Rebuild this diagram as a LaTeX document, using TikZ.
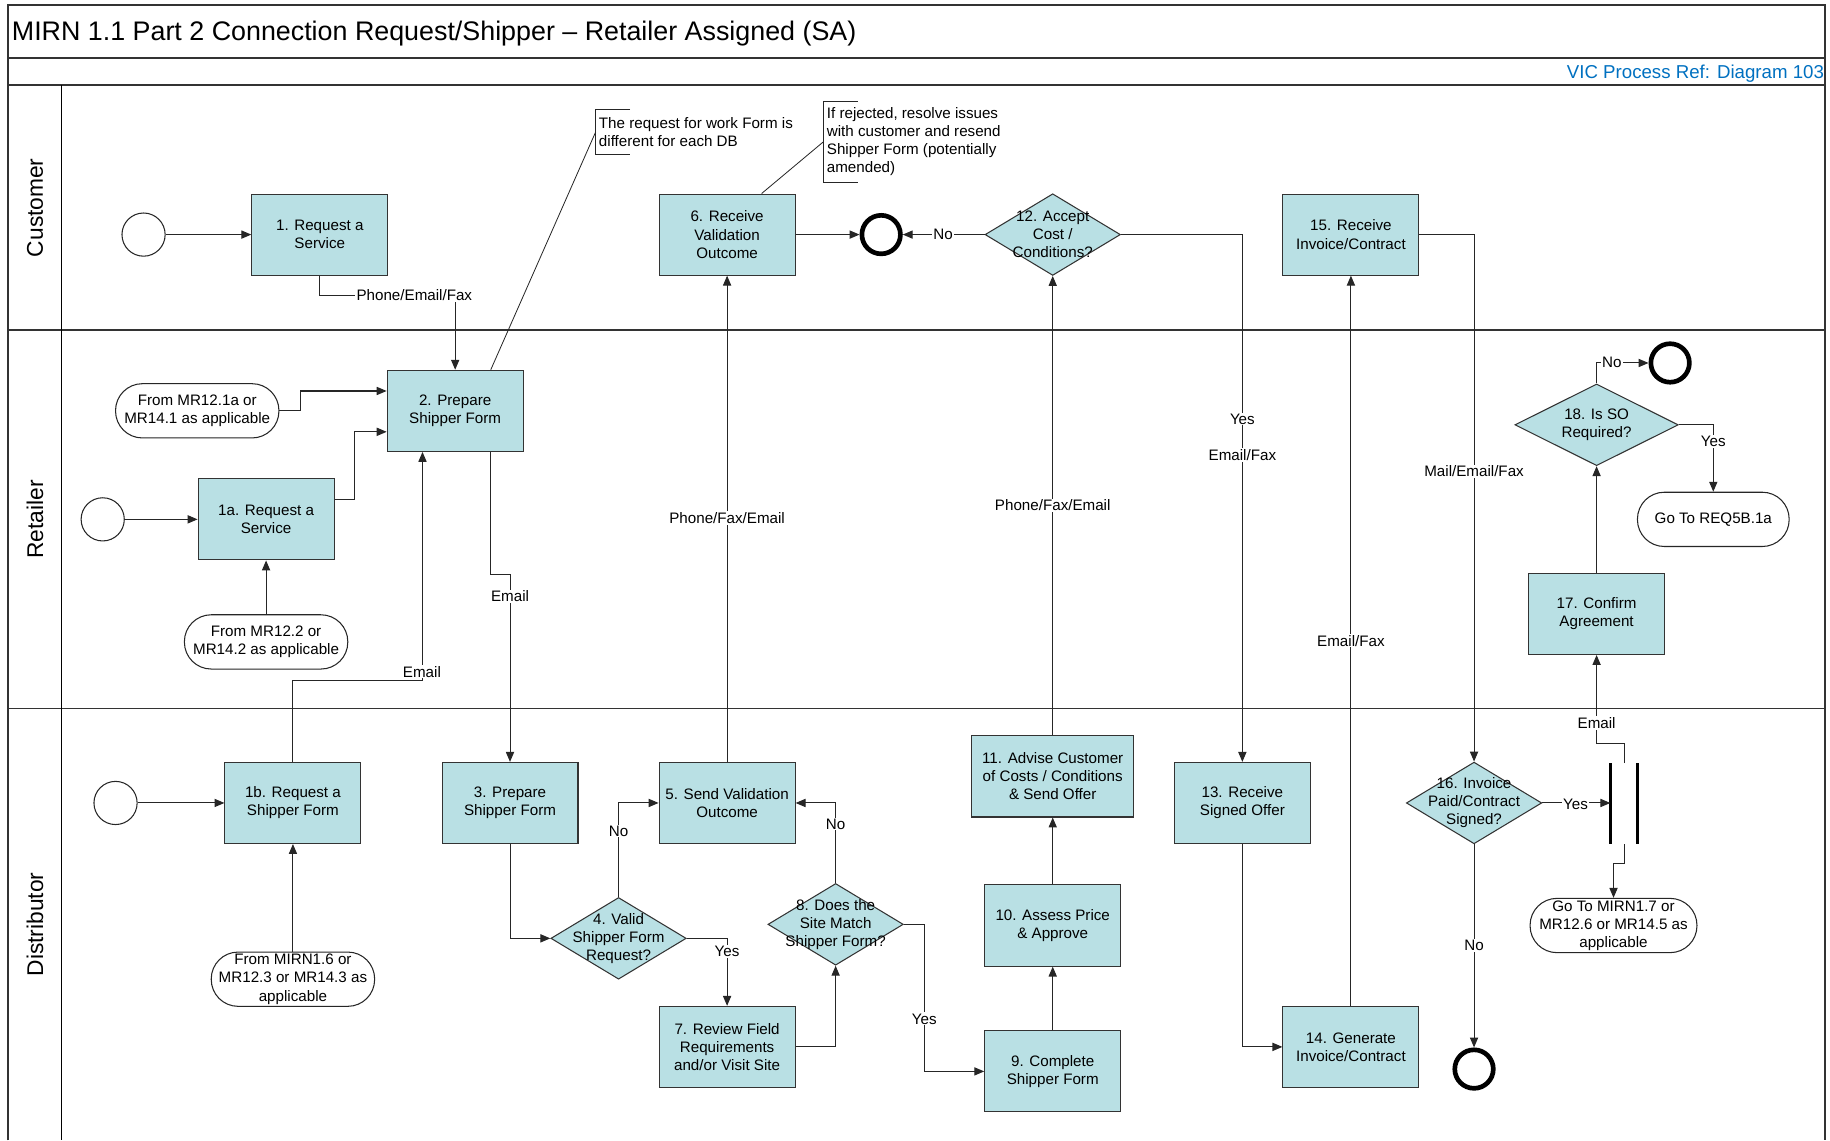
\documentclass[tikz,border=0pt]{standalone}
\usepackage{fontspec}
\setmainfont{Liberation Sans}
\usetikzlibrary{arrows.meta,shapes.geometric,calc}
\definecolor{boxfill}{RGB}{185,224,228}
\definecolor{refblue}{RGB}{0,112,192}
\newcommand{\flowfont}{\fontsize{13}{15.5}\selectfont}
\begin{document}
\begin{tikzpicture}[x=1pt,y=-1pt,
  lane/.style={draw=black!80, line width=1.6pt},
  box/.style={draw=black!80, line width=0.9pt, fill=boxfill, minimum width=116.5pt,
    minimum height=69.5pt, inner sep=0pt, align=center, font=\flowfont},
  dec/.style={diamond, draw=black!80, line width=0.9pt, fill=boxfill, minimum width=116pt,
    minimum height=70pt, inner sep=0pt},
  dtxt/.style={align=center, font=\flowfont, inner sep=0pt},
  term/.style={rectangle, rounded corners=23pt, draw=black!85, line width=0.9pt, fill=white,
    minimum width=140pt, minimum height=46.5pt, inner sep=0pt, align=center, font=\flowfont},
  startev/.style={circle, draw=black!85, line width=0.9pt, minimum size=37pt, inner sep=0pt},
  endev/.style={circle, draw=black, line width=4pt, minimum size=33pt, inner sep=0pt},
  flow/.style={draw=black!85, line width=0.9pt, -{Triangle[length=8.5pt,width=7pt]}},
  plain/.style={draw=black!85, line width=0.9pt},
  lbl/.style={fill=white, inner sep=1pt, font=\flowfont},
  note/.style={align=left, font=\flowfont, inner sep=0pt, anchor=west},
  lanename/.style={rotate=90, font=\fontsize{19.5}{23}\selectfont, inner sep=0pt},
]
\useasboundingbox (0,0) rectangle (1568,977);

% frame, title bar and swimlanes
\draw[lane] (7,977) -- (7,4) -- (1564,4) -- (1564,977);
\draw[lane] (7,50) -- (1564,50);
\draw[lane] (7,73) -- (1564,73);
\draw[lane] (7,283) -- (1564,283);
\draw[lane] (7,607) -- (1564,607);
\draw[black, line width=1pt] (53,73) -- (53,977);

\node[anchor=west, inner sep=0pt, font=\fontsize{23}{27}\selectfont] (title) at (10,28.5)
  {MIRN 1.1 Part 2 Connection Request/Shipper – Retailer Assigned (SA)};
\node[anchor=east, inner sep=0pt, text=refblue, font=\fontsize{16}{19}\selectfont] (ref) at (1563,63.5)
  {VIC Process Ref: Diagram 103};

\node[lanename] (lcust) at (30,178) {Customer};
\node[lanename] (lret) at (30,445) {Retailer};
\node[lanename] (ldist) at (30,792) {Distributor};

% Customer lane
\node[startev] (s1) at (123,201) {};
\node[box] (n1) at (274,201) {1. Request a\\Service};
\node[box] (n6) at (623,201) {6. Receive\\Validation\\Outcome};
\node[endev] (e1) at (755,201) {};
\node[dec] (n12) at (902,201) {};
\node[dtxt] (n12t) at (n12) {12. Accept\\Cost /\\Conditions?};
\node[box] (n15) at (1157.5,201) {15. Receive\\Invoice/Contract};

% Retailer lane
\node[term] (t121) at (169,352) {From MR12.1a or\\MR14.1 as applicable};
\node[box] (n2) at (390,352) {2. Prepare\\Shipper Form};
\node[startev] (s2) at (88,445) {};
\node[box] (n1a) at (228,445) {1a. Request a\\Service};
\node[term] (t122) at (228,550) {From MR12.2 or\\MR14.2 as applicable};
\node[dec, minimum width=140pt] (n18) at (1368,364) {};
\node[dtxt] (n18t) at (n18) {18. Is SO\\Required?};
\node[endev] (e18) at (1431,311) {};
\node[term, minimum width=130pt] (t5b) at (1468,445) {Go To REQ5B.1a};
\node[box] (n17) at (1368,526) {17. Confirm\\Agreement};

% Distributor lane
\node[startev] (s3) at (99,688) {};
\node[box] (n1b) at (251,688) {1b. Request a\\Shipper Form};
\node[term] (t16) at (251,839) {From MIRN1.6 or\\MR12.3 or MR14.3 as\\applicable};
\node[box] (n3) at (437,688) {3. Prepare\\Shipper Form};
\node[dec] (n4) at (530,804) {};
\node[dtxt] (n4t) at (n4) {4. Valid\\Shipper Form\\Request?};
\node[box] (n5) at (623,688) {5. Send Validation\\Outcome};
\node[box] (n7) at (623,897) {7. Review Field\\Requirements\\and/or Visit Site};
\node[dec] (n8) at (716,792) {};
\node[dtxt] (n8t) at (n8) {8. Does the\\Site Match\\Shipper Form?};
\node[box, minimum width=139pt, minimum height=70pt] (n11) at (902,665)
  {11. Advise Customer\\of Costs / Conditions\\\& Send Offer};
\node[box] (n10) at (902,793) {10. Assess Price\\\& Approve};
\node[box] (n9) at (902,918) {9. Complete\\Shipper Form};
\node[box] (n13) at (1064.5,688) {13. Receive\\Signed Offer};
\node[box] (n14) at (1157.5,897) {14. Generate\\Invoice/Contract};
\node[dec] (n16) at (1263,688) {};
\node[dtxt] (n16t) at (n16) {16. Invoice\\Paid/Contract\\Signed?};
\node[endev] (e16) at (1263,916) {};
\node[minimum width=23pt, minimum height=69pt, inner sep=0pt] (sync) at (1391.5,688.5) {};
\draw[black, line width=2.6pt] (sync.north west) -- (sync.south west);
\draw[black, line width=2.6pt] (sync.north east) -- (sync.south east);
\node[term, minimum width=143pt] (t17) at (1382.5,793) {Go To MIRN1.7 or\\MR12.6 or MR14.5 as\\applicable};

% annotations
\node[note] (a1) at (513,113) {The request for work Form is\\different for each DB};
\coordinate (a1b) at (510.4,113);
\draw[plain] ($(a1b)+(29.4,-19)$) -- ($(a1b)+(0,-19)$) -- ($(a1b)+(0,19)$) -- ($(a1b)+(29.4,19)$);
\draw[plain, line width=0.7pt] (a1b) -- ($(n2.north)+(30.5,0)$);

\node[note] (a2) at (708.3,121) {If rejected, resolve issues\\with customer and resend\\Shipper Form (potentially\\amended)};
\coordinate (a2b) at (705.5,121.5);
\draw[plain] ($(a2b)+(29.5,-34.5)$) -- ($(a2b)+(0,-34.5)$) -- ($(a2b)+(0,34.5)$) -- ($(a2b)+(29.5,34.5)$);
\draw[plain, line width=0.7pt] (a2b) -- ($(n6.north)+(29.6,0)$);

% connectors
\draw[flow] (s1) -- (n1);
\draw[flow] (n1.south) -- ++(0,17) -| (n2.north);
\draw[flow] (t121.east) -- ++(18,0) |- ($(n2.west)+(0,-17)$);
\draw[flow] ($(n1a.east)+(0,-17)$) -- ++(17,0) |- ($(n2.west)+(0,18)$);
\draw[flow] (s2) -- (n1a);
\draw[flow] (t122) -- (n1a);
\draw[flow] (s3) -- (n1b);
\draw[flow] (t16) -- (n1b);
\draw[flow] (n1b.north) -- ++(0,-70) -| ($(n2.south)+(-28,0)$);
\draw[flow] ($(n2.south)+(30,0)$) -- ++(0,105) -| (n3.north);
\draw[flow] (n3.south) |- (n4.west);
\draw[flow] (n4.north) |- (n5.west);
\draw[flow] (n4.east) -| (n7.north);
\draw[flow] (n7.east) -| (n8.south);
\draw[flow] (n8.north) |- (n5.east);
\draw[flow] (n8.east) -- ++(18,0) |- (n9.west);
\draw[flow] (n9) -- (n10);
\draw[flow] (n10) -- (n11);
\draw[flow] (n11) -- (n12);
\draw[flow] (n5) -- (n6);
\draw[flow] (n6) -- (e1);
\draw[flow] (n12) -- (e1);
\draw[flow] (n12.east) -| (n13.north);
\draw[flow] (n13.south) |- (n14.west);
\draw[flow] (n14) -- (n15);
\draw[flow] (n15.east) -| (n16.north);
\draw[flow] (n16) -- (e16);
\draw[flow] (n16.east) -- (n16.east -| sync.west);
\draw[flow] (sync.north) -- ++(0,-17) -| (n17.south);
\draw[flow] (sync.south) -- ++(0,17) -| (t17.north);
\draw[flow] (n17) -- (n18);
\draw[flow] (n18.north) |- (e18.west);
\draw[flow] (n18.east) -| (t5b.north);

% connector labels
\node[lbl] (l1) at (355,253) {Phone/Email/Fax};
\node[lbl] (l2) at (361.5,575.5) {Email};
\node[lbl] (l3) at (437,511) {Email};
\node[lbl] (l4) at (530,712) {No};
\node[lbl] (l5) at (623,815) {Yes};
\node[lbl] (l6) at (716,706) {No};
\node[lbl] (l7) at (792,873) {Yes};
\node[lbl] (l8) at (623,444) {Phone/Fax/Email};
\node[lbl] (l9) at (902,433) {Phone/Fax/Email};
\node[lbl] (l10) at (808,201) {No};
\node[lbl] (l11) at (1064.5,359) {Yes};
\node[lbl] (l12) at (1064.5,390) {Email/Fax};
\node[lbl] (l13) at (1157.5,549) {Email/Fax};
\node[lbl] (l14) at (1263,404) {Mail/Email/Fax};
\node[lbl] (l15) at (1263,810) {No};
\node[lbl] (l16) at (1350,689) {Yes};
\node[lbl] (l17) at (1368,619.5) {Email};
\node[lbl] (l18) at (1381,310.5) {No};
\node[lbl] (l19) at (1468,378) {Yes};
\end{tikzpicture}
\end{document}
